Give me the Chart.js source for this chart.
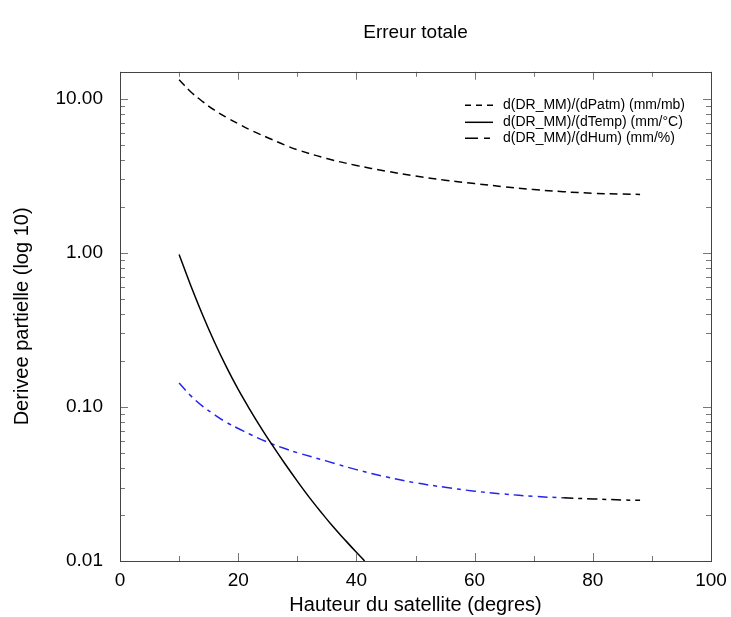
<!DOCTYPE html>
<html>
<head>
<meta charset="utf-8">
<script src="https://cdn.jsdelivr.net/npm/chart.js@4"></script>
<style>
  html, body { margin: 0; padding: 0; background: #fff; }
  #wrap { width: 731px; height: 617px; position: relative; }
</style>
</head>
<body>
<div id="wrap"><canvas id="c"></canvas></div>
<script>
// ---- data ----
const titleText = 'Erreur totale';
const xTitle = 'Hauteur du satellite (degres)';
const yTitle = 'Derivee partielle (log 10)';

const elevation = [10, 12, 14, 16, 18, 20, 22, 25, 28, 30, 35, 40, 45, 50, 55, 60, 65, 70, 75, 80, 85, 88];
const patmValues = [13.3, 11.1, 9.6, 8.45, 7.6, 6.9, 6.3, 5.6, 5.0, 4.68, 4.1, 3.70, 3.40, 3.16, 2.97, 2.82, 2.69, 2.58, 2.50, 2.44, 2.41, 2.40];
const humValues = [0.143, 0.118, 0.101, 0.089, 0.0795, 0.0725, 0.0665, 0.059, 0.0535, 0.0505, 0.0445, 0.0392, 0.0352, 0.0322, 0.0301, 0.0284, 0.0272, 0.0263, 0.0257, 0.0253, 0.0249, 0.0248];

const tempElevation = [10, 12, 14, 16, 18, 20, 22, 24, 26, 28, 30, 32, 34, 36, 38, 40, 41.4];
const tempValues = [0.977, 0.610, 0.394, 0.263, 0.182, 0.130, 0.0959, 0.0719, 0.0548, 0.0423, 0.0330, 0.0260, 0.0208, 0.0168, 0.0138, 0.01138, 0.0100];

const seriesLabels = ['d(DR_MM)/(dPatm) (mm/mb)', 'd(DR_MM)/(dTemp) (mm/°C)', 'd(DR_MM)/(dHum) (mm/%)'];

const xTickValues = [0, 20, 40, 60, 80, 100];
const xTickLabels = ['0', '20', '40', '60', '80', '100'];
const xMinorValues = [10, 30, 50, 70, 90];
const yTickValues = [0.01, 0.1, 1, 10];
const yTickLabels = ['0.01', '0.10', '1.00', '10.00'];
const humBlackFrom = 75; // hum curve turns black past this elevation

// ---- helpers ----
const toPoints = (xs, ys) => xs.map((x, i) => ({ x: x, y: ys[i] }));
const FONT = "'Liberation Sans', Arial, Helvetica, sans-serif";
const BLUE = '#2424ee';

const framePlugin = {
  id: 'frameTicks',
  afterDatasetsDraw(chart) {
    const { ctx, chartArea: a, scales: { x, y } } = chart;
    ctx.save();
    ctx.strokeStyle = '#777';
    ctx.lineWidth = 1;
    ctx.beginPath();
    const tickX = (v, len) => {
      const px = Math.round(x.getPixelForValue(v)) + 0.5;
      ctx.moveTo(px, a.bottom); ctx.lineTo(px, a.bottom - len);
      ctx.moveTo(px, a.top); ctx.lineTo(px, a.top + len);
    };
    xTickValues.forEach(v => tickX(v, 8));
    xMinorValues.forEach(v => tickX(v, 5));
    const tickY = (v, len) => {
      if (v < y.min || v > y.max) return;
      const py = Math.round(y.getPixelForValue(v)) + 0.5;
      ctx.moveTo(a.left, py); ctx.lineTo(a.left + len, py);
      ctx.moveTo(a.right, py); ctx.lineTo(a.right - len, py);
    };
    yTickValues.forEach(d => {
      tickY(d, 8);
      for (let m = 2; m <= 9; m++) tickY(d * m, 5);
    });
    ctx.stroke();
    ctx.strokeStyle = '#444';
    ctx.strokeRect(Math.round(a.left) + 0.5, Math.round(a.top) + 0.5, Math.round(a.right - a.left), Math.round(a.bottom - a.top));
    ctx.restore();
  }
};

const legendPlugin = {
  id: 'insideLegend',
  afterDraw(chart) {
    const { ctx, chartArea: a } = chart;
    const x0 = a.right - 246, x1 = a.right - 218, tx = a.right - 208;
    const rows = [a.top + 33, a.top + 50, a.top + 66];
    const dashes = [[6, 5], [], [13, 6, 6, 6]];
    ctx.save();
    ctx.font = '14px ' + FONT;
    ctx.textBaseline = 'middle';
    ctx.fillStyle = '#000';
    rows.forEach((ry, i) => {
      ctx.strokeStyle = '#000';
      ctx.lineWidth = 1.5;
      ctx.setLineDash(dashes[i]);
      ctx.beginPath();
      ctx.moveTo(x0, ry + 0.5); ctx.lineTo(x1, ry + 0.5);
      ctx.stroke();
      ctx.setLineDash([]);
      ctx.fillText(seriesLabels[i], tx, ry);
    });
    ctx.restore();
  }
};

new Chart(document.getElementById('c'), {
  type: 'line',
  data: {
    datasets: [
      {
        label: seriesLabels[0],
        data: toPoints(elevation, patmValues),
        borderColor: '#000', borderWidth: 1.5, borderDash: [8, 5],
        pointRadius: 0, tension: 0.4, fill: false
      },
      {
        label: seriesLabels[1],
        data: toPoints(tempElevation, tempValues),
        borderColor: '#000', borderWidth: 1.5,
        pointRadius: 0, tension: 0.4, fill: false
      },
      {
        label: seriesLabels[2],
        data: toPoints(elevation, humValues),
        borderColor: BLUE, borderWidth: 1.5, borderDash: [10, 5, 4, 5],
        segment: { borderColor: c => (c.p0.parsed.x >= humBlackFrom ? '#000' : BLUE) },
        pointRadius: 0, tension: 0.4, fill: false
      }
    ]
  },
  options: {
    responsive: true,
    maintainAspectRatio: false,
    animation: false,
    devicePixelRatio: 1,
    layout: { padding: { left: 0, right: 20, top: 0, bottom: 0 } },
    plugins: {
      legend: { display: false },
      tooltip: { enabled: false },
      title: {
        display: true, text: titleText, fullSize: false,
        color: '#000', font: { family: FONT, size: 19, weight: 'normal' },
        padding: { top: 21, bottom: 28 }
      }
    },
    scales: {
      x: {
        type: 'linear', min: 0, max: 100,
        grid: { display: false, drawTicks: false },
        border: { display: false },
        afterBuildTicks: s => { s.ticks = xTickValues.map(v => ({ value: v })); },
        afterFit: s => { s.height = 56; s.paddingRight = 0; s.paddingLeft = 0; },
        ticks: {
          color: '#000', padding: 8, maxRotation: 0, autoSkip: false,
          font: { family: FONT, size: 19 },
          callback: v => xTickLabels[xTickValues.indexOf(v)]
        },
        title: {
          display: true, text: xTitle, color: '#000',
          font: { family: FONT, size: 20 }, padding: { top: 0, bottom: 0 }
        }
      },
      y: {
        type: 'logarithmic', min: 0.01, max: 15,
        grid: { display: false, drawTicks: false },
        border: { display: false },
        afterBuildTicks: s => { s.ticks = yTickValues.map(v => ({ value: v })); },
        afterFit: s => { s.width = 120; },
        ticks: {
          color: '#000', padding: 17, autoSkip: false,
          font: { family: FONT, size: 19 },
          callback: v => {
            const i = yTickValues.findIndex(t => Math.abs(t - v) / t < 1e-6);
            return i >= 0 ? yTickLabels[i] : '';
          }
        },
        title: {
          display: true, text: yTitle, color: '#000',
          font: { family: FONT, size: 20 }, padding: { top: 10, bottom: 0 }
        }
      }
    }
  },
  plugins: [framePlugin, legendPlugin]
});
</script>
</body>
</html>
